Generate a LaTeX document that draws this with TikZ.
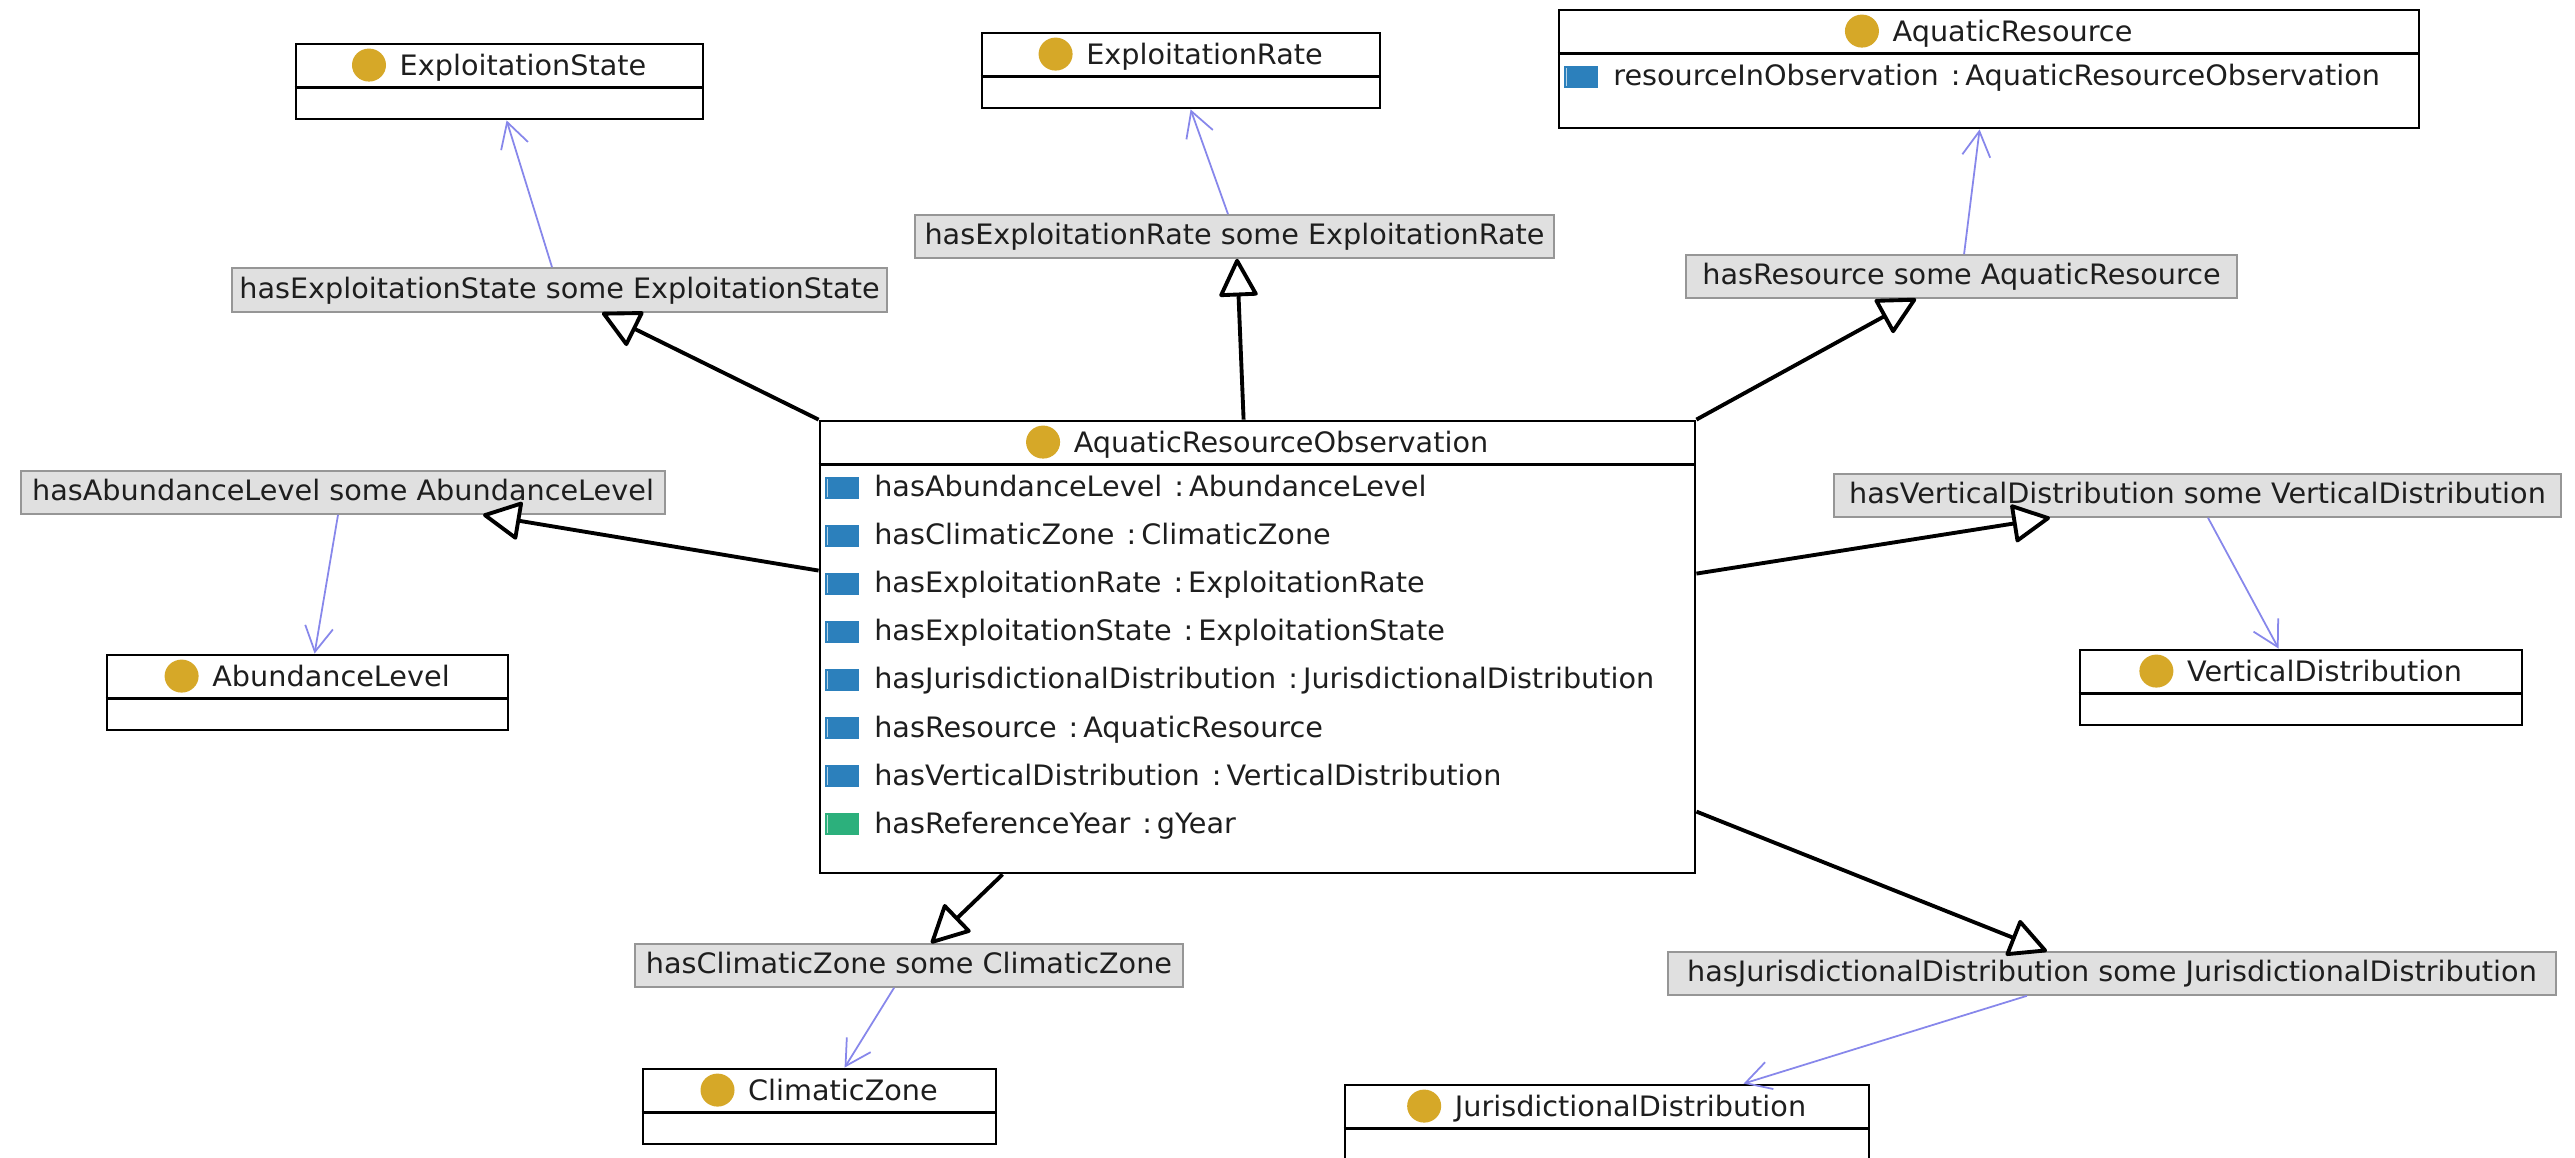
\documentclass[tikz,border=0pt]{standalone}
\usepackage{fontspec}
\setmainfont{DejaVu Sans}[FakeStretch=1.02]
\usetikzlibrary{arrows.meta,calc,fit}
\definecolor{gold}{RGB}{214,168,40}
\definecolor{opblue}{RGB}{44,128,188}
\definecolor{dpgreen}{RGB}{44,176,124}
\definecolor{linkblue}{RGB}{135,135,235}
\definecolor{lblgray}{RGB}{224,224,224}
\definecolor{lblborder}{RGB}{150,150,150}
\definecolor{txt}{RGB}{30,30,30}
\newcommand\dfont{\fontsize{8}{10}\selectfont}
\tikzset{
  clsbox/.style={draw=black, line width=0.8pt, inner sep=0pt, fill=white},
  clsline/.style={draw=black, line width=0.8pt},
  clstitle/.style={anchor=base, inner sep=0pt, text=txt, font=\dfont},
  attr/.style={anchor=base west, inner sep=0pt, text=txt, font=\dfont},
  restr/.style={draw=lblborder, fill=lblgray, line width=0.45pt, inner xsep=0pt, inner ysep=0pt,
    text height=0.22cm, text depth=0.06cm, text=txt, font=\dfont},
  gen/.style={draw=black, line width=1.1pt, -{Triangle[length=0.40cm, width=0.40cm, fill=white, round]}},
  link/.style={draw=linkblue, line width=0.5pt, -{Straight Barb[length=0.25cm, width=0.28cm]}},
}
\newcommand\owlclass[6]{%
  \node[clsbox, fit={(#2,#3) (#4,#5)}] (#1) {};
  \draw[clsline] ($(#1.north west)+(0,45)$) -- ($(#1.north east)+(0,45)$);
  \node[clstitle] (#1-t) at ($(#1.north)+(23.5,33)$) {#6};
  \fill[gold] ($(#1-t.base west)+(-30,-10.5)$) ellipse [x radius=0.17cm, y radius=0.165cm];
}
\newcommand\attrrow[5]{%
  \node[attr] (#1) at ($(#2.north west)+(55,{77+48.1*#3})$) {#4};
  \fill[#5] ($(#1.base west)+(-49,-20)$) rectangle ++(34,22);
  \draw[white!65!#5, line width=0.5pt] ($(#1.base west)+(-46,-18)$) -- ++(0,18);
}
\begin{document}
\begin{tikzpicture}[x=0.01cm, y=-0.01cm]
\useasboundingbox (0,0) rectangle (2575,1158);
\clip (0,0) rectangle (2575,1158);
\fill[white] (0,0) rectangle (2575,1158);

% classes
\owlclass{es}{296}{44}{703}{119}{ExploitationState}
\owlclass{er}{982}{33}{1380}{108}{ExploitationRate}
\owlclass{ar}{1559}{10}{2419}{128}{AquaticResource}
\owlclass{aro}{820}{421}{1695}{873}{AquaticResourceObservation}
\owlclass{al}{107}{655}{508}{730}{AbundanceLevel}
\owlclass{vd}{2080}{650}{2522}{725}{VerticalDistribution}
\owlclass{cz}{643}{1069}{996}{1144}{ClimaticZone}
\owlclass{jd}{1345}{1085}{1869}{1175}{JurisdictionalDistribution}

% attributes
\attrrow{ar-r1}{ar}{0}{resourceInObservation\hspace{0.12cm}:\hspace{0.05cm}AquaticResourceObservation}{opblue}
\attrrow{aro-r1}{aro}{0}{hasAbundanceLevel\hspace{0.12cm}:\hspace{0.05cm}AbundanceLevel}{opblue}
\attrrow{aro-r2}{aro}{1}{hasClimaticZone\hspace{0.12cm}:\hspace{0.05cm}ClimaticZone}{opblue}
\attrrow{aro-r3}{aro}{2}{hasExploitationRate\hspace{0.12cm}:\hspace{0.05cm}ExploitationRate}{opblue}
\attrrow{aro-r4}{aro}{3}{hasExploitationState\hspace{0.12cm}:\hspace{0.05cm}ExploitationState}{opblue}
\attrrow{aro-r5}{aro}{4}{hasJurisdictionalDistribution\hspace{0.12cm}:\hspace{0.05cm}JurisdictionalDistribution}{opblue}
\attrrow{aro-r6}{aro}{5}{hasResource\hspace{0.12cm}:\hspace{0.05cm}AquaticResource}{opblue}
\attrrow{aro-r7}{aro}{6}{hasVerticalDistribution\hspace{0.12cm}:\hspace{0.05cm}VerticalDistribution}{opblue}
\attrrow{aro-r8}{aro}{7}{hasReferenceYear\hspace{0.12cm}:\hspace{0.05cm}gYear}{dpgreen}

% restriction labels
\node[restr, minimum width=6.55cm, minimum height=0.44cm] (ges) at (559.5,290) {hasExploitationState some ExploitationState};
\node[restr, minimum width=6.39cm, minimum height=0.43cm] (ger) at (1234.5,236.5) {hasExploitationRate some ExploitationRate};
\node[restr, minimum width=5.51cm, minimum height=0.43cm] (gar) at (1961.5,276.5) {hasResource some AquaticResource};
\node[restr, minimum width=6.44cm, minimum height=0.43cm] (gal) at (343,492.5) {hasAbundanceLevel some AbundanceLevel};
\node[restr, minimum width=7.27cm, minimum height=0.43cm] (gvd) at (2197.5,495.5) {hasVerticalDistribution some VerticalDistribution};
\node[restr, minimum width=5.48cm, minimum height=0.43cm] (gcz) at (909,965.5) {hasClimaticZone some ClimaticZone};
\node[restr, minimum width=8.88cm, minimum height=0.43cm] (gjd) at (2112,973.5) {hasJurisdictionalDistribution some JurisdictionalDistribution};

% generalisation connectors
\draw[gen] (aro.north west) -- ($(ges.south west)+(371,0)$);
\draw[gen] ($(aro.north west)+(425,0)$) -- ($(ger.south west)+(323,0)$);
\draw[gen] (aro.north east) -- ($(gar.south west)+(231,0)$);
\draw[gen] ($(aro.north west)+(0,151)$) -- ($(gal.south west)+(463,0)$);
\draw[gen] ($(aro.north east)+(0,154)$) -- ($(gvd.south west)+(217,0)$);
\draw[gen] ($(aro.south west)+(184,0)$) -- ($(gcz.north west)+(297,0)$);
\draw[gen] ($(aro.north east)+(0,392)$) -- ($(gjd.north west)+(380,0)$);

% property links
\draw[link] ($(ges.north west)+(321,0)$) -- ($(es.south west)+(212,0)$);
\draw[link] ($(ger.north west)+(314,0)$) -- ($(er.south west)+(210,0)$);
\draw[link] ($(gar.north west)+(279,0)$) -- ($(ar.south west)+(422,0)$);
\draw[link] ($(gal.south west)+(318,0)$) -- ($(al.north west)+(209,0)$);
\draw[link] ($(gvd.south west)+(375,0)$) -- ($(vd.north west)+(200,0)$);
\draw[link] ($(gcz.south west)+(260,0)$) -- ($(cz.north west)+(203,0)$);
\draw[link] ($(gjd.south west)+(360,0)$) -- ($(jd.north west)+(400,0)$);
\end{tikzpicture}
\end{document}
